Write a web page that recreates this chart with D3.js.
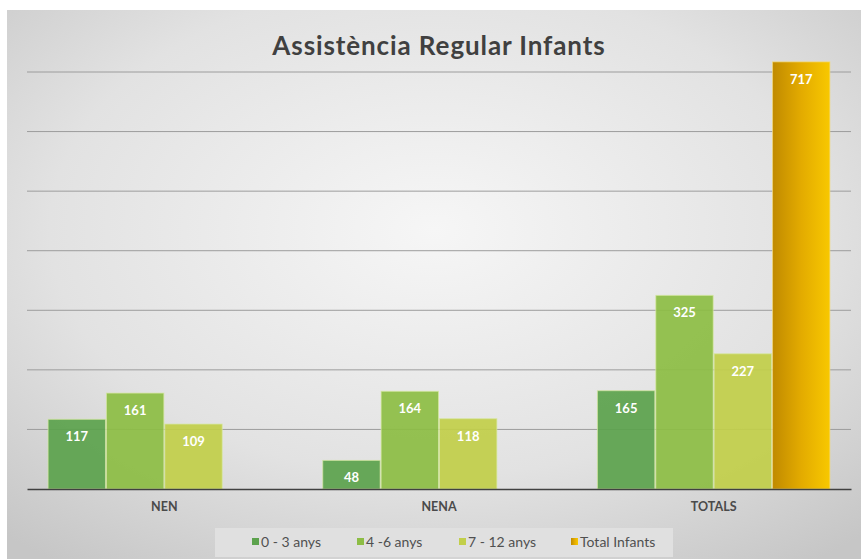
<!DOCTYPE html>
<html><head><meta charset="utf-8">
<script src="https://cdn.jsdelivr.net/npm/d3@7"></script>
<style>html,body{margin:0;padding:0;background:#fff;}svg{display:block;}</style>
</head><body>
<script>
const categories = ["NEN", "NENA", "TOTALS"];
const seriesNames = ["0 - 3 anys", "4 -6 anys", "7 - 12 anys", "Total Infants"];
const s03 = [117, 48, 165];
const s46 = [161, 164, 325];
const s712 = [109, 118, 227];
const sTotal = [null, null, 717];
const yTicks = [100, 200, 300, 400, 500, 600, 700];
const title = "Assistència Regular Infants";

const W = 861, H = 559;
const svg = d3.select("body").append("svg").attr("width", W).attr("height", H);
const defs = svg.append("defs");
const bg = defs.append("radialGradient").attr("id","bg").attr("cx","50%").attr("cy","40%").attr("r","75%");
bg.append("stop").attr("offset","0%").attr("stop-color","#f6f6f6");
bg.append("stop").attr("offset","60%").attr("stop-color","#e2e2e2");
bg.append("stop").attr("offset","100%").attr("stop-color","#c6c6c6");
const gold = defs.append("linearGradient").attr("id","gold").attr("x1","0").attr("x2","1").attr("y1","0").attr("y2","0");
gold.append("stop").attr("offset","0%").attr("stop-color","#c08a00");
gold.append("stop").attr("offset","50%").attr("stop-color","#e3ab00");
gold.append("stop").attr("offset","100%").attr("stop-color","#f8c800");

svg.append("rect").attr("x",7).attr("y",10).attr("width",W-7).attr("height",H-10).attr("fill","url(#bg)");

const x0 = d3.scaleBand().domain(categories).range([27, 851]).paddingInner(0.15).paddingOuter(0.075);
const x1 = d3.scaleBand().domain(seriesNames).range([0, x0.bandwidth()]);
const y = d3.scaleLinear().domain([0, 700]).range([489, 72]);

// gridlines
svg.append("g").selectAll("line").data(yTicks).join("line")
  .attr("x1",27).attr("x2",851).attr("y1",d=>y(d)).attr("y2",d=>y(d))
  .attr("stroke","#9c9c9c").attr("stroke-width",1);

const colors = ["#5ca24d", "#8dbd45", "#c2cf4a", "url(#gold)"];
const allSeries = [s03, s46, s712, sTotal];
const bars = [];
allSeries.forEach((arr, si) => {
  arr.forEach((v, ci) => { if (v != null) bars.push({s: seriesNames[si], si, c: categories[ci], v}); });
});

const bg2 = svg.append("g");
bg2.selectAll("rect").data(bars).join("rect")
  .attr("x", d => x0(d.c) + x1(d.s) + 0.5)
  .attr("y", d => y(d.v))
  .attr("width", x1.bandwidth() - 1)
  .attr("height", d => y(0) - y(d.v))
  .attr("fill", d => colors[d.si])
  .attr("fill-opacity", d => d.si === 3 ? 1 : 0.93)
  .attr("stroke", d => d.si === 3 ? "#f3dc7a" : "#d6e8a0")
  .attr("stroke-opacity", 0.7)
  .attr("stroke-width", 1);

bg2.selectAll("text").data(bars).join("text")
  .attr("x", d => x0(d.c) + x1(d.s) + x1.bandwidth()/2)
  .attr("y", d => y(d.v) + 22)
  .attr("text-anchor","middle")
  .attr("font-family","Lato, 'Open Sans', sans-serif")
  .attr("font-weight","bold").attr("font-size",13)
  .attr("fill","#ffffff")
  .text(d => d.v);

// baseline axis
const xAxis = d3.axisBottom(x0).tickSize(0).tickPadding(13);
const ax = svg.append("g").attr("transform","translate(0,489)").call(xAxis);
ax.select(".domain").attr("stroke","#404040").attr("stroke-width",1.6);
ax.selectAll("text").attr("font-family","Lato, 'Open Sans', sans-serif").attr("font-weight","bold")
  .attr("font-size",12.5).attr("fill","#4a4a4a");

// title
svg.append("text").attr("x",439).attr("y",55).attr("text-anchor","middle")
  .attr("font-family","Lato, 'Open Sans', sans-serif").attr("font-weight","bold")
  .attr("font-size",26).attr("letter-spacing",0.9).attr("fill","#404040").text(title);

// legend
svg.append("rect").attr("x",215).attr("y",528).attr("width",458).attr("height",29).attr("fill","#e0e0e0");
const legX = [252, 357, 459, 571];
const lg = svg.append("g").selectAll("g").data(seriesNames).join("g")
  .attr("transform",(d,i)=>`translate(${legX[i]},542)`);
lg.append("rect").attr("x",0).attr("y",-4).attr("width",7).attr("height",7)
  .attr("fill",(d,i)=>colors[i]);
lg.append("text").attr("x",9).attr("y",4.5)
  .attr("font-family","Lato, 'Open Sans', sans-serif").attr("font-size",14).attr("fill","#505050")
  .text(d=>d);
</script>
</body></html>
